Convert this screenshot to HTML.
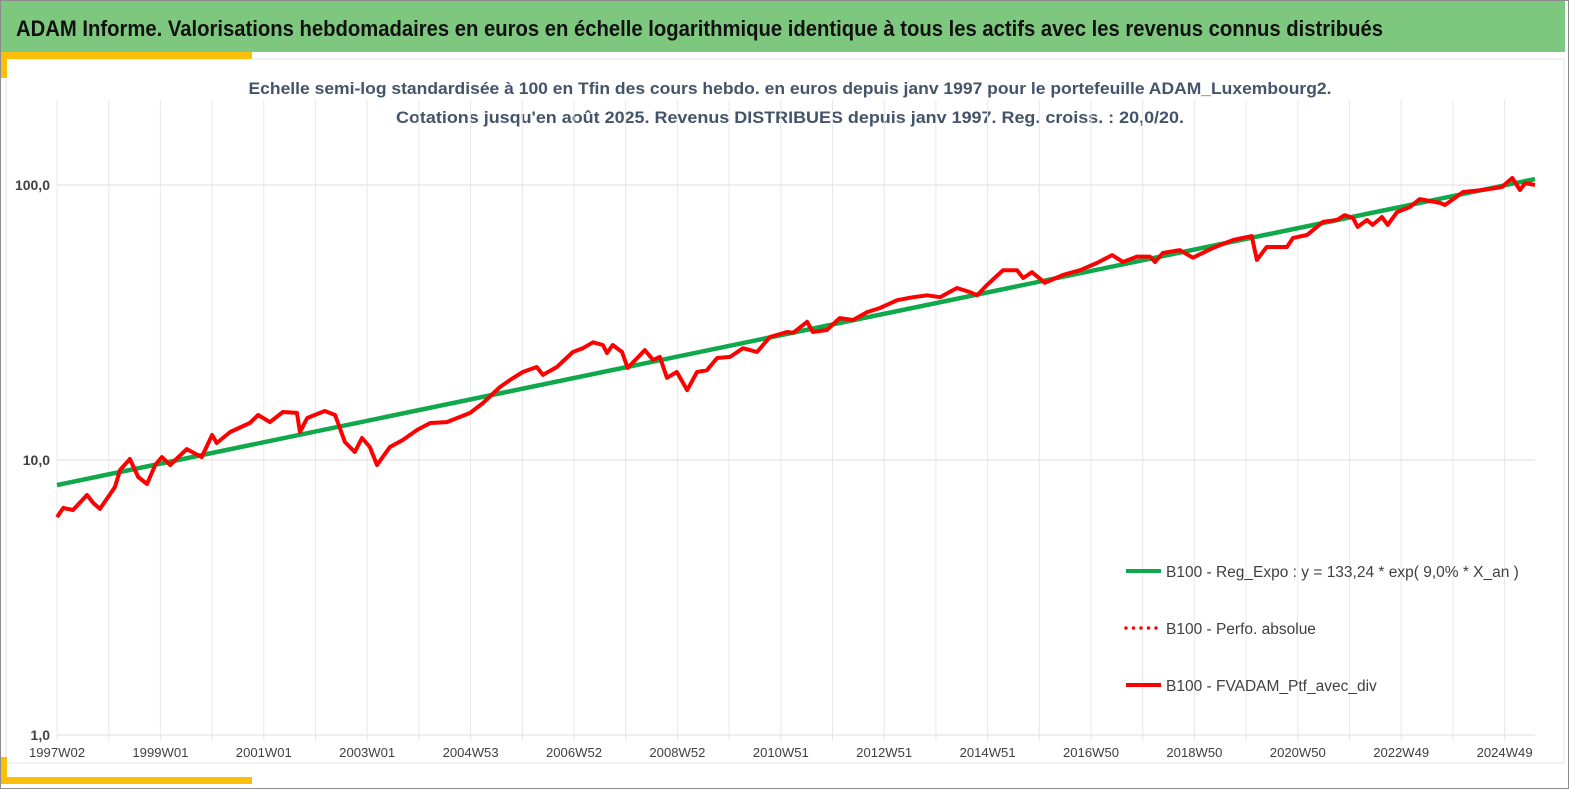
<!DOCTYPE html>
<html><head><meta charset="utf-8">
<style>
html,body{margin:0;padding:0;background:#fff;}
svg{display:block;font-family:"Liberation Sans",sans-serif;}
</style></head>
<body>
<svg id="chart" width="1569" height="789" viewBox="0 0 1569 789" xmlns="http://www.w3.org/2000/svg">
  <rect x="0.5" y="0.5" width="1568" height="788" fill="#fff" stroke="#8c8c8c"/>
  <rect x="1" y="1" width="1564" height="51" fill="#7dc77e"/>
  <text x="16" y="36" font-size="22" font-weight="bold" fill="#111" textLength="1367" lengthAdjust="spacingAndGlyphs">ADAM Informe. Valorisations hebdomadaires en euros en échelle logarithmique identique à tous les actifs avec les revenus connus distribués</text>
  <rect x="6" y="59" width="1558" height="704" fill="none" stroke="#e3e3e3"/>
  <rect x="1" y="52" width="251" height="7" fill="#fbbf0a"/>
  <rect x="1" y="52" width="6" height="26" fill="#fbbf0a"/>
  <rect x="1" y="777" width="251" height="7" fill="#fbbf0a"/>
  <rect x="1" y="757" width="6" height="27" fill="#fbbf0a"/>
  <text x="790" y="94" font-size="17" font-weight="bold" fill="#44546a" text-anchor="middle" textLength="1083" lengthAdjust="spacingAndGlyphs">Echelle semi-log standardisée  à 100 en Tfin des cours hebdo.  en euros depuis janv 1997 pour le portefeuille ADAM_Luxembourg2.</text>
  <text x="790" y="123" font-size="17" font-weight="bold" fill="#44546a" text-anchor="middle" textLength="788" lengthAdjust="spacingAndGlyphs">Cotations  jusqu'en août 2025. Revenus DISTRIBUES depuis janv 1997. Reg. croiss. : 20,0/20.</text>
  <g id="grid"></g>
  <g id="axes"></g>
  <g id="series"></g>
  <g id="legend"></g>
</svg>
<script>
const xTickLabels = ["1997W02","1999W01","2001W01","2003W01","2004W53","2006W52","2008W52","2010W51","2012W51","2014W51","2016W50","2018W50","2020W50","2022W49","2024W49"];
const yTickValues = [1, 10, 100];
const yTickLabels = ["1,0","10,0","100,0"];
const regYears = [1997.04, 2025.63];
const regValues = [8.11, 105.1];
const ptfYears = [1997.04,1997.16,1997.35,1997.62,1997.74,1997.87,1998.03,1998.16,1998.26,1998.45,1998.61,1998.78,1998.94,1999.07,1999.23,1999.55,1999.84,2000.04,2000.13,2000.39,2000.77,2000.93,2001.16,2001.41,2001.68,2001.74,2001.88,2002.22,2002.42,2002.61,2002.80,2002.94,2003.09,2003.23,2003.48,2003.73,2004.00,2004.26,2004.58,2005.03,2005.28,2005.61,2005.80,2006.05,2006.32,2006.44,2006.71,2007.02,2007.21,2007.41,2007.60,2007.68,2007.79,2007.97,2008.08,2008.41,2008.57,2008.70,2008.84,2009.03,2009.23,2009.42,2009.61,2009.81,2010.06,2010.31,2010.58,2010.83,2011.16,2011.28,2011.55,2011.66,2011.93,2012.18,2012.44,2012.71,2012.96,2013.29,2013.60,2013.87,2014.12,2014.45,2014.70,2014.84,2015.03,2015.34,2015.61,2015.73,2015.90,2016.15,2016.50,2016.83,2017.16,2017.45,2017.66,2017.93,2018.18,2018.28,2018.43,2018.76,2019.01,2019.40,2019.79,2020.15,2020.25,2020.44,2020.83,2020.95,2021.22,2021.53,2021.80,2021.95,2022.11,2022.20,2022.38,2022.49,2022.67,2022.78,2022.96,2023.21,2023.40,2023.79,2023.89,2024.24,2024.62,2024.99,2025.19,2025.34,2025.44,2025.63];
const ptfValues = [6.20,6.69,6.58,7.46,6.98,6.64,7.34,7.97,9.20,10.08,8.67,8.18,9.59,10.25,9.59,10.96,10.25,12.33,11.53,12.64,13.63,14.58,13.74,14.95,14.83,12.64,14.21,15.07,14.58,11.63,10.69,12.02,11.15,9.59,11.15,11.82,12.85,13.63,13.74,14.83,16.12,18.42,19.53,20.9,21.79,20.39,21.79,24.7,25.5,26.8,26.2,24.5,26.2,24.7,21.6,25.1,23.1,23.7,19.9,20.9,17.96,20.9,21.2,23.5,23.7,25.5,24.7,28.0,29.2,29.0,31.8,29.2,29.7,32.8,32.3,34.5,35.7,38.1,39.1,39.7,39.1,42.2,40.8,39.7,43.3,49.0,49.0,45.9,48.2,44.1,47.1,49.0,52.1,55.6,52.5,54.9,54.9,52.5,56.6,58.0,54.4,59.0,63.1,65.2,53.4,59.5,59.5,64.2,65.8,73.4,74.6,77.7,75.8,70.4,74.6,71.6,76.5,71.6,79.6,83.2,88.9,86.1,84.6,94.3,95.9,98.3,106,95.9,101.7,100];

const NS = "http://www.w3.org/2000/svg";
const X0 = 57, X1 = 1535, YR0 = 1997.04, YR1 = 2025.63;
const Y1PX = 735, DECADE = 275;
function xScale(yr){ return X0 + (yr - YR0) / (YR1 - YR0) * (X1 - X0); }
function yScale(v){ return Y1PX - Math.log10(v) * DECADE; }
function mk(tag, attrs, parent){ const e = document.createElementNS(NS, tag); for (const k in attrs) e.setAttribute(k, attrs[k]); parent.appendChild(e); return e; }

const grid = document.getElementById('grid');
const axes = document.getElementById('axes');
const series = document.getElementById('series');
const legend = document.getElementById('legend');
const catStep = 51.7;
const nGrid = Math.floor((X1 - X0) / catStep);
for (let i = 0; i <= nGrid; i++) {
  const x = X0 + i * catStep;
  const l = mk('line', {x1:x, x2:x, y1:100, y2:741, stroke:'#e6e8ee', 'stroke-width':1}, grid);
  
  
}
yTickValues.forEach((v, i) => {
  const y = yScale(v);
  const l = mk('line', {x1:X0, x2:X1, y1:y, y2:y, stroke:'#e3e4e8', 'stroke-width':1.3}, grid);
  
  
  const t = mk('text', {x:50, y:y+5, 'font-size':14, 'font-weight':'bold', fill:'#404040', 'text-anchor':'end'}, axes);
  t.textContent = yTickLabels[i];
  
  
});
xTickLabels.forEach((lab, i) => {
  const x = X0 + i * 2 * catStep;
  const t = mk('text', {x:x, y:757, 'font-size':13, fill:'#404040', 'text-anchor':'middle', textLength:56, lengthAdjust:'spacingAndGlyphs'}, axes);
  t.textContent = lab;
  
  
});
const reg = mk('polyline', {points: regYears.map((yr, i) => xScale(yr) + ',' + yScale(regValues[i])).join(' '), fill:'none', stroke:'#0fa84a', 'stroke-width':4.5}, series);


const ptf = mk('polyline', {points: ptfYears.map((yr, i) => xScale(yr).toFixed(1) + ',' + yScale(ptfValues[i]).toFixed(1)).join(' '), fill:'none', stroke:'#ff0000', 'stroke-width':4, 'stroke-linejoin':'round'}, series);



const leg = [
  {y:571, color:'#0fa84a', dash:null, text:'B100 - Reg_Expo : y = 133,24 * exp( 9,0% *  X_an )', name:'legend-entry-regression'},
  {y:628, color:'#ff0000', dash:'0 7.5', text:'B100 - Perfo. absolue', name:'legend-entry-perfo-absolue'},
  {y:685, color:'#ff0000', dash:null, text:'B100 - FVADAM_Ptf_avec_div', name:'legend-entry-portfolio'}
];
leg.forEach(e => {
  const g = mk('g', {}, legend);
  
  
  const a = {x1:1126, x2:1161, y1:e.y, y2:e.y, stroke:e.color, 'stroke-width':4};
  if (e.dash) { a['stroke-dasharray'] = e.dash; a['stroke-linecap'] = 'round'; a['stroke-width'] = 3.5; }
  mk('line', a, g);
  const t = mk('text', {x:1166, y:e.y+6, 'font-size':15.5, fill:'#404040'}, g);
  t.textContent = e.text;
});
</script>
</body></html>
